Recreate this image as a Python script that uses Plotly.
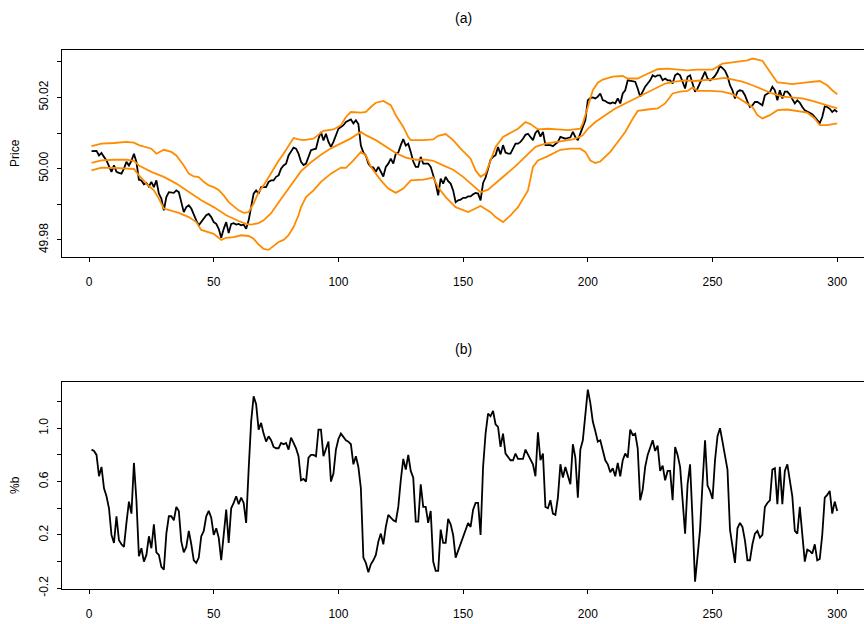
import plotly.graph_objects as go

# ---------------- data ----------------
day = list(range(1, 301))

price = [
50.0049,50.0050,50.0050,50.0037,50.0044,50.0033,50.0023,50.0007,49.9991,50.0009,
49.9991,49.9988,49.9986,50.0000,50.0019,50.0009,50.0022,50.0042,50.0019,49.9969,
49.9967,49.9956,49.9960,49.9950,49.9963,49.9948,49.9967,49.9930,49.9916,49.9883,
49.9920,49.9934,49.9934,49.9932,49.9939,49.9934,49.9906,49.9878,49.9892,49.9897,
49.9888,49.9869,49.9855,49.9841,49.9850,49.9857,49.9869,49.9873,49.9864,49.9850,
49.9845,49.9831,49.9806,49.9831,49.9850,49.9819,49.9845,49.9847,49.9843,49.9845,
49.9841,49.9843,49.9831,49.9855,49.9892,49.9930,49.9939,49.9930,49.9948,49.9948,
49.9948,49.9963,49.9967,49.9967,49.9977,49.9981,50.0000,50.0009,50.0014,50.0037,
50.0047,50.0059,50.0056,50.0042,50.0019,50.0010,50.0014,50.0033,50.0052,50.0054,
50.0056,50.0084,50.0103,50.0079,50.0098,50.0075,50.0061,50.0075,50.0094,50.0112,
50.0117,50.0122,50.0131,50.0135,50.0138,50.0127,50.0136,50.0125,50.0065,50.0045,
50.0037,50.0014,50.0005,50.0003,49.9991,50.0005,49.9991,49.9978,50.0005,50.0014,
50.0028,50.0014,50.0042,50.0045,50.0066,50.0083,50.0065,50.0070,50.0047,50.0020,
50.0005,50.0005,50.0033,50.0014,50.0014,50.0014,50.0005,49.9980,49.9958,49.9925,
49.9972,49.9958,49.9977,49.9965,49.9958,49.9939,49.9906,49.9911,49.9913,49.9918,
49.9918,49.9922,49.9922,49.9928,49.9932,49.9930,49.9911,49.9960,49.9975,50.0000,
50.0025,50.0033,50.0038,50.0061,50.0040,50.0066,50.0045,50.0042,50.0042,50.0056,
50.0070,50.0070,50.0075,50.0084,50.0095,50.0098,50.0088,50.0080,50.0100,50.0108,
50.0090,50.0103,50.0066,50.0066,50.0066,50.0063,50.0070,50.0075,50.0089,50.0086,
50.0084,50.0086,50.0088,50.0103,50.0089,50.0080,50.0100,50.0115,50.0136,50.0192,
50.0198,50.0200,50.0197,50.0202,50.0211,50.0192,50.0190,50.0185,50.0183,50.0186,
50.0183,50.0197,50.0183,50.0211,50.0220,50.0248,50.0246,50.0244,50.0244,50.0225,
50.0202,50.0216,50.0230,50.0239,50.0248,50.0262,50.0258,50.0262,50.0262,50.0248,
50.0253,50.0248,50.0248,50.0239,50.0262,50.0267,50.0262,50.0244,50.0225,50.0258,
50.0262,50.0239,50.0216,50.0225,50.0240,50.0253,50.0272,50.0253,50.0248,50.0253,
50.0260,50.0272,50.0288,50.0282,50.0275,50.0260,50.0234,50.0220,50.0197,50.0216,
50.0220,50.0218,50.0206,50.0188,50.0173,50.0178,50.0187,50.0187,50.0182,50.0178,
50.0206,50.0211,50.0215,50.0230,50.0220,50.0192,50.0220,50.0197,50.0216,50.0216,
50.0208,50.0195,50.0183,50.0192,50.0185,50.0173,50.0164,50.0160,50.0157,50.0153,
50.0145,50.0136,50.0128,50.0145,50.0175,50.0173,50.0168,50.0159,50.0165,50.0159]

upper_day = [1,5,10,15,18,20,25,27,30,33,35,38,40,42,44,46,48,50,52,54,56,58,60,62,64,66,68,70,72,74,76,78,80,82,84,86,90,94,98,101,103,105,109,111,113,115,118,121,123,126,128,129,134,138,140,143,146,149,153,155,157,159,161,163,166,169,172,175,177,180,184,188,192,197,198,200,202,204,206,210,214,216,220,222,225,228,232,236,240,244,248,250,252,254,258,262,264,266,268,270,273,276,278,282,286,290,293,296,298,300]
upper = [50.0063,50.0070,50.0072,50.0075,50.0073,50.0066,50.0056,50.0042,50.0053,50.0047,50.0037,50.0009,49.9986,49.9978,49.9976,49.9963,49.9953,49.9948,49.9940,49.9925,49.9906,49.9895,49.9883,49.9876,49.9878,49.9902,49.9934,49.9953,49.9977,50.0000,50.0022,50.0042,50.0066,50.0086,50.0082,50.0080,50.0084,50.0106,50.0110,50.0122,50.0145,50.0159,50.0157,50.0159,50.0173,50.0185,50.0190,50.0178,50.0150,50.0117,50.0089,50.0080,50.0080,50.0082,50.0092,50.0097,50.0080,50.0056,50.0028,49.9995,49.9977,49.9986,50.0023,50.0061,50.0089,50.0100,50.0112,50.0131,50.0125,50.0110,50.0112,50.0110,50.0108,50.0112,50.0127,50.0173,50.0220,50.0241,50.0250,50.0258,50.0260,50.0253,50.0253,50.0260,50.0270,50.0279,50.0281,50.0279,50.0276,50.0278,50.0279,50.0278,50.0286,50.0295,50.0298,50.0303,50.0304,50.0309,50.0306,50.0303,50.0272,50.0242,50.0241,50.0237,50.0241,50.0244,50.0246,50.0234,50.0220,50.0209]

middle_day = [1,5,10,15,18,20,25,30,35,40,45,50,55,60,63,65,68,70,73,76,78,81,85,89,93,97,101,105,109,111,115,119,123,127,131,135,138,142,146,150,154,157,160,163,167,171,175,179,183,187,191,194,197,198,200,203,207,211,215,219,223,227,231,235,239,243,247,251,255,258,262,266,270,274,278,282,286,290,294,297,300]
middle = [50.0016,50.0023,50.0025,50.0025,50.0022,50.0009,49.9991,49.9977,49.9958,49.9934,49.9911,49.9892,49.9869,49.9853,49.9845,49.9843,49.9847,49.9855,49.9875,49.9905,49.9925,49.9955,49.9993,50.0018,50.0039,50.0057,50.0071,50.0085,50.0103,50.0094,50.0080,50.0063,50.0044,50.0031,50.0025,50.0025,50.0022,50.0009,49.9997,49.9977,49.9951,49.9934,49.9941,49.9958,49.9983,50.0007,50.0033,50.0061,50.0070,50.0075,50.0080,50.0082,50.0090,50.0094,50.0112,50.0131,50.0150,50.0169,50.0183,50.0197,50.0211,50.0225,50.0239,50.0244,50.0248,50.0246,50.0248,50.0251,50.0255,50.0251,50.0244,50.0234,50.0222,50.0211,50.0202,50.0200,50.0197,50.0190,50.0181,50.0175,50.0169]

lower_day = [1,5,10,15,18,20,23,26,28,30,33,36,40,43,45,48,50,53,55,58,61,64,66,68,70,72,74,76,78,80,82,84,85,87,90,93,97,101,103,106,109,111,113,117,120,123,126,129,134,138,140,143,147,152,157,161,163,166,169,172,176,178,180,184,189,193,197,199,201,203,205,209,212,215,218,220,224,228,231,234,237,240,242,244,249,254,258,262,266,268,270,273,276,280,284,288,291,293,296,300]
lower = [49.9995,50.0003,50.0002,50.0000,49.9999,49.9981,49.9958,49.9939,49.9916,49.9888,49.9881,49.9876,49.9864,49.9850,49.9828,49.9822,49.9817,49.9800,49.9806,49.9808,49.9813,49.9811,49.9803,49.9787,49.9775,49.9772,49.9782,49.9794,49.9800,49.9813,49.9836,49.9869,49.9892,49.9920,49.9939,49.9963,49.9986,50.0003,50.0002,50.0023,50.0047,50.0037,50.0005,49.9967,49.9944,49.9932,49.9944,49.9967,49.9969,49.9975,49.9948,49.9920,49.9892,49.9878,49.9895,49.9878,49.9864,49.9850,49.9869,49.9892,49.9939,50.0005,50.0023,50.0035,50.0053,50.0056,50.0056,50.0047,50.0023,50.0016,50.0020,50.0047,50.0075,50.0103,50.0140,50.0162,50.0166,50.0169,50.0183,50.0211,50.0216,50.0218,50.0228,50.0218,50.0218,50.0216,50.0209,50.0192,50.0173,50.0150,50.0141,50.0150,50.0164,50.0166,50.0162,50.0157,50.0141,50.0122,50.0122,50.0127]

pct_b = [
0.84,0.83,0.80,0.64,0.71,0.55,0.49,0.40,0.20,0.14,
0.34,0.16,0.13,0.11,0.29,0.45,0.36,0.74,0.46,0.04,
0.10,0.00,0.05,0.19,0.10,0.28,0.07,0.05,-0.04,-0.06,
0.21,0.34,0.34,0.31,0.41,0.38,0.15,0.07,0.11,0.23,
0.13,0.01,-0.01,0.03,0.19,0.23,0.34,0.38,0.33,0.20,
0.25,0.18,0.01,0.21,0.39,0.14,0.40,0.44,0.49,0.43,
0.48,0.44,0.29,0.69,1.05,1.24,1.18,0.99,1.04,0.96,
0.90,0.94,0.91,0.86,0.85,0.85,0.89,0.88,0.89,0.84,
0.93,0.89,0.85,0.79,0.61,0.62,0.60,0.78,0.80,0.80,
0.79,0.99,0.99,0.79,0.84,0.90,0.60,0.66,0.84,0.92,
0.96,0.93,0.91,0.90,0.88,0.73,0.79,0.71,0.55,0.03,
-0.01,-0.08,-0.02,0.01,0.05,0.15,0.21,0.13,0.26,0.35,
0.33,0.31,0.30,0.41,0.61,0.77,0.69,0.80,0.68,0.63,
0.30,0.30,0.58,0.41,0.41,0.29,0.38,0.00,-0.07,-0.07,
0.24,0.14,0.14,0.32,0.28,0.20,0.03,0.08,0.14,0.19,
0.23,0.29,0.26,0.39,0.44,0.44,0.20,0.71,0.96,1.11,
1.09,1.13,1.03,1.01,0.86,0.96,0.81,0.78,0.76,0.76,
0.81,0.77,0.77,0.77,0.84,0.80,0.76,0.73,0.64,0.97,
0.76,0.81,0.41,0.40,0.46,0.36,0.35,0.48,0.73,0.63,
0.71,0.65,0.58,0.88,0.78,0.48,0.84,0.91,1.13,1.29,
1.19,1.05,0.98,0.90,0.91,0.83,0.76,0.73,0.67,0.70,
0.64,0.74,0.64,0.76,0.81,0.78,0.99,0.95,0.96,0.85,
0.46,0.54,0.71,0.80,0.85,0.91,0.83,0.87,0.68,0.72,
0.61,0.68,0.68,0.46,0.86,0.80,0.71,0.49,0.21,0.58,
0.73,0.31,-0.15,0.04,0.24,0.59,0.91,0.57,0.53,0.47,
0.76,0.94,1.00,0.90,0.79,0.69,0.24,0.11,-0.01,0.25,
0.29,0.26,0.16,0.01,0.01,0.13,0.21,0.23,0.18,0.20,
0.41,0.44,0.46,0.69,0.70,0.43,0.71,0.43,0.68,0.73,
0.61,0.49,0.23,0.21,0.41,0.23,0.00,0.09,0.08,0.06,
0.13,0.01,0.02,0.20,0.48,0.50,0.53,0.36,0.45,0.38]

x_ticks = [0, 50, 100, 150, 200, 250, 300]
price_tickvals = [49.98, 49.99, 50.00, 50.01, 50.02, 50.03]
price_ticktext = ["49.98", "", "50.00", "", "50.02", ""]
b_tickvals = [-0.2, 0.0, 0.2, 0.4, 0.6, 0.8, 1.0, 1.2]
b_ticktext = ["-0.2", "", "0.2", "", "0.6", "", "1.0", ""]

# ---------------- figure ----------------
W, H = 864, 624
ORANGE = "#FF8C00"
FONT = "Liberation Sans, Arial, sans-serif"
LW = 1.8

fig = go.Figure()
fig.add_trace(go.Scatter(x=day, y=price, mode="lines", line=dict(color="black", width=LW),
                         xaxis="x", yaxis="y", showlegend=False))
for xs, ys in [(upper_day, upper), (middle_day, middle), (lower_day, lower)]:
    fig.add_trace(go.Scatter(x=xs, y=ys, mode="lines", line=dict(color=ORANGE, width=LW),
                             xaxis="x", yaxis="y", showlegend=False))
fig.add_trace(go.Scatter(x=day, y=pct_b, mode="lines", line=dict(color="black", width=LW),
                         xaxis="x2", yaxis="y2", showlegend=False))

def px_x(p):
    return p / W

def px_y(p):
    return 1 - p / H

xdom = [px_x(62), 1.0]
xrange_ = [-10.84, 310.74]
common_x = dict(domain=xdom, range=xrange_, tickvals=x_ticks, ticks="outside", ticklen=4,
                tickcolor="black", tickwidth=1.2, showline=True, linecolor="black",
                linewidth=1.3, mirror=True, showgrid=False, zeroline=False,
                ticklabelstandoff=9, automargin=False,
                tickfont=dict(size=12, color="black"))
common_y = dict(ticks="outside", ticklen=4, tickcolor="black", tickwidth=1.2, showline=True,
                linecolor="black", linewidth=1.3, showgrid=False, zeroline=False,
                tickangle=-90, automargin=False, ticklabelstandoff=4,
                tickfont=dict(size=12, color="black"))

def ann(text, x, y, size, angle=0):
    return dict(text=text, x=px_x(x), y=px_y(y), xref="paper", yref="paper",
                xanchor="center", yanchor="middle", showarrow=False,
                textangle=angle, font=dict(size=size, color="black"))

fig.update_layout(
    width=W, height=H, autosize=False,
    margin=dict(l=0, r=0, t=0, b=0, pad=0),
    paper_bgcolor="white", plot_bgcolor="white",
    font=dict(family=FONT, size=12, color="black"),
    xaxis=dict(anchor="y", **common_x),
    yaxis=dict(anchor="x", domain=[px_y(257), px_y(50)], range=[49.9752, 50.0333],
               tickvals=price_tickvals, ticktext=price_ticktext, **common_y),
    xaxis2=dict(anchor="y2", **common_x),
    yaxis2=dict(anchor="x2", domain=[px_y(589), px_y(382)], range=[-0.2055, 1.347],
                tickvals=b_tickvals, ticktext=b_ticktext, **common_y),
    annotations=[
        ann("(a)", 463, 18, 14),
        ann("(b)", 463, 349, 14),
        ann("Price", 15, 153, 12, -90),
        ann("%b", 15, 485, 12, -90),
    ],
)

fig.write_html("out.html")
